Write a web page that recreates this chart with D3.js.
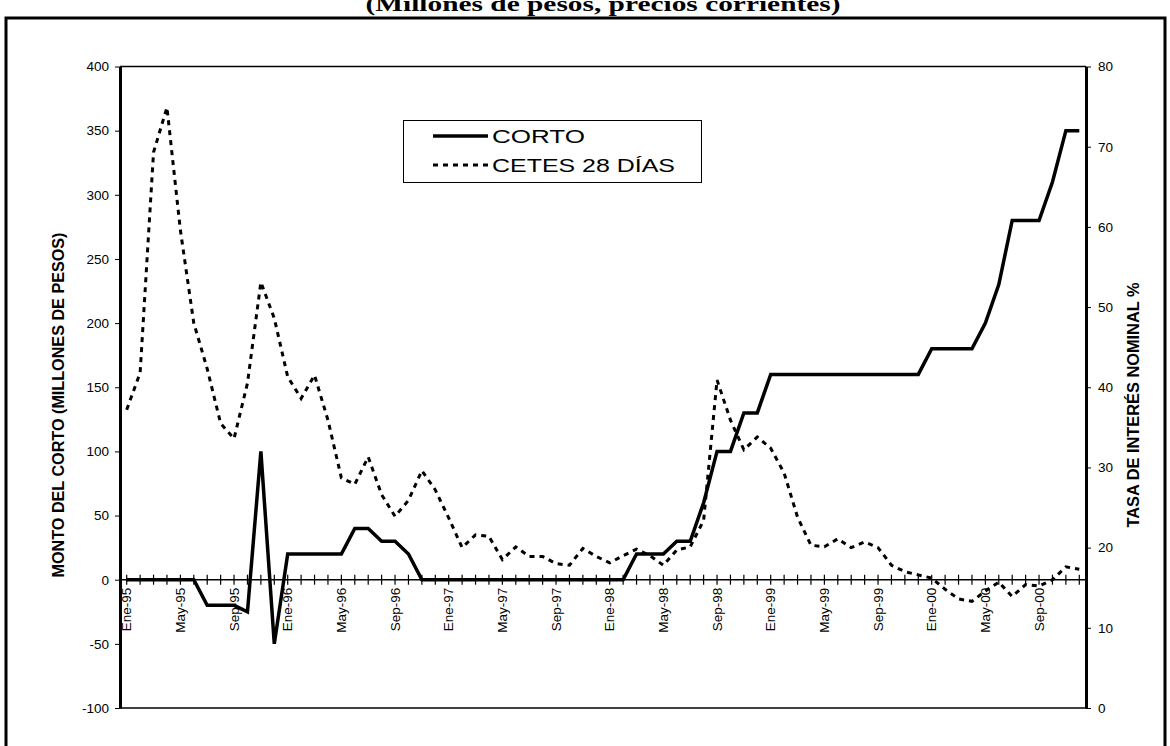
<!DOCTYPE html>
<html>
<head>
<meta charset="utf-8">
<script src="https://cdn.jsdelivr.net/npm/d3@7"></script>
<style>
  html, body { margin: 0; padding: 0; background: #fff; }
  svg { display: block; }
  text { font-family: "Liberation Sans", Arial, sans-serif; fill: #000; }
</style>
</head>
<body>
<svg id="chart" width="1170" height="746"></svg>
<script>
// Month abbreviations and years used to build the monthly categories
const meses = ["Ene","Feb","Mar","Abr","May","Jun","Jul","Ago","Sep","Oct","Nov","Dic"];
const anios = ["95","96","97","98","99","00"];
const categorias = anios.flatMap(a => meses.map(m => m + "-" + a));

// Labels shown under the horizontal axis
const etiquetasX = ["Ene-95","May-95","Sep-95","Ene-96","May-96","Sep-96","Ene-97","May-97","Sep-97",
                    "Ene-98","May-98","Sep-98","Ene-99","May-99","Sep-99","Ene-00","May-00","Sep-00"];

// Left axis ticks (millions of pesos) and right axis ticks (%)
const ticksIzq = [-100, -50, 0, 50, 100, 150, 200, 250, 300, 350, 400];
const ticksDer = [0, 10, 20, 30, 40, 50, 60, 70, 80];

// Monto del corto, millones de pesos (Ene-95 .. Dic-00)
const corto = [
  0, 0, 0, 0, 0, 0, -20, -20, -20, -25, 100, -50,
  20, 20, 20, 20, 20, 40, 40, 30, 30, 20, 0, 0,
  0, 0, 0, 0, 0, 0, 0, 0, 0, 0, 0, 0,
  0, 0, 20, 20, 20, 30, 30, 60, 100, 100, 130, 130,
  160, 160, 160, 160, 160, 160, 160, 160, 160, 160, 160, 160,
  180, 180, 180, 180, 200, 230, 280, 280, 280, 310, 350, 350
];

// CETES 28 días, tasa nominal % (Ene-95 .. Dic-00)
const cetes = [
  37.2, 41.8, 69.3, 74.9, 59.6, 48.0, 42.3, 35.5, 33.6, 40.5, 53.1, 48.6,
  41.3, 38.6, 41.5, 35.9, 28.7, 27.9, 31.3, 26.6, 23.9, 25.9, 29.6, 27.2,
  23.7, 20.0, 21.6, 21.4, 18.5, 20.1, 18.9, 18.9, 18.0, 17.8, 19.9, 18.9,
  18.1, 19.0, 19.8, 19.0, 17.8, 19.7, 20.1, 23.4, 40.9, 35.9, 32.2, 33.8,
  32.4, 29.3, 23.8, 20.3, 20.1, 21.1, 20.0, 20.7, 20.0, 17.8, 17.0, 16.6,
  16.2, 14.8, 13.6, 13.3, 14.6, 15.7, 13.9, 15.4, 15.2, 16.0, 17.6, 17.3
];

const svg = d3.select("#chart");
const plot = { left: 120, right: 1086, top: 66.5, bottom: 708 };

const x = d3.scaleBand().domain(categorias).range([plot.left, plot.right]).padding(0);
const xc = c => x(c) + x.bandwidth() / 2;
const yIzq = d3.scaleLinear().domain([-100, 400]).range([plot.bottom, plot.top]);
const yDer = d3.scaleLinear().domain([0, 80]).range([plot.bottom, plot.top]);

// Plain integer labels with an ASCII hyphen for negatives
const fmt = d => String(d);

// Outer frame and heading
svg.append("path")
  .attr("d", "M6,760 L6,18 L1165,18 L1165,760")
  .attr("fill", "none").attr("stroke", "#000").attr("stroke-width", 3);

svg.append("text")
  .attr("x", 603).attr("y", 11)
  .attr("text-anchor", "middle")
  .attr("textLength", 475).attr("lengthAdjust", "spacingAndGlyphs")
  .style("font-family", "'Liberation Serif', 'Times New Roman', serif")
  .style("font-weight", "bold").style("font-size", "21px")
  .text("(Millones de pesos, precios corrientes)");

// Top and bottom edges of the plot area
svg.append("line").attr("x1", plot.left).attr("x2", plot.right)
  .attr("y1", plot.top).attr("y2", plot.top).attr("stroke", "#000").attr("stroke-width", 1.5);
svg.append("line").attr("x1", plot.left).attr("x2", plot.right)
  .attr("y1", plot.bottom).attr("y2", plot.bottom).attr("stroke", "#000").attr("stroke-width", 1.5);

// Left axis
const gIzq = svg.append("g").attr("transform", `translate(${plot.left},0)`)
  .call(d3.axisLeft(yIzq).tickValues(ticksIzq).tickSizeInner(5).tickSizeOuter(0).tickPadding(6)
        .tickFormat(fmt));
gIzq.select(".domain").attr("stroke-width", 3);
gIzq.selectAll(".tick line").attr("stroke-width", 1);
gIzq.selectAll(".tick text").style("font-size", "13.5px").attr("font-family", null);

// Right axis
const gDer = svg.append("g").attr("transform", `translate(${plot.right},0)`)
  .call(d3.axisRight(yDer).tickValues(ticksDer).tickSizeInner(5).tickSizeOuter(0).tickPadding(7)
        .tickFormat(fmt));
gDer.select(".domain").attr("stroke-width", 3);
gDer.selectAll(".tick line").attr("stroke-width", 1);
gDer.selectAll(".tick text").style("font-size", "13.5px").attr("font-family", null);

// Category axis crossing at zero: tick marks on every month
const y0 = yIzq(0);
const gX = svg.append("g").attr("transform", `translate(0,${y0})`)
  .call(d3.axisBottom(x).tickSizeInner(5).tickSizeOuter(0).tickFormat(""));
gX.select(".domain").attr("d", `M${plot.left},0H${plot.right}`).attr("stroke-width", 1.5);
gX.selectAll(".tick line").attr("y1", -5).attr("y2", 5).attr("stroke-width", 1.2);

// Rotated month labels every four months
const gXL = svg.append("g").attr("transform", `translate(0,${y0})`)
  .call(d3.axisBottom(x).tickValues(etiquetasX).tickSize(0).tickPadding(0));
gXL.select(".domain").remove();
gXL.selectAll(".tick text")
  .attr("font-family", null)
  .style("font-size", "13.5px")
  .attr("text-anchor", "end")
  .attr("transform", "rotate(-90)")
  .attr("x", -8).attr("y", 0).attr("dy", "0.35em");

// Series
const lineaCorto = d3.line().x((d, i) => xc(categorias[i])).y(d => yIzq(d));
const lineaCetes = d3.line().x((d, i) => xc(categorias[i])).y(d => yDer(d));

svg.append("path").datum(cetes)
  .attr("d", lineaCetes)
  .attr("fill", "none").attr("stroke", "#000")
  .attr("stroke-width", 3).attr("stroke-dasharray", "5,5")
  .attr("stroke-linejoin", "miter");

svg.append("path").datum(corto)
  .attr("d", lineaCorto)
  .attr("fill", "none").attr("stroke", "#000")
  .attr("stroke-width", 3.5).attr("stroke-linejoin", "miter");

// Axis titles
svg.append("text")
  .attr("transform", "translate(64,405) rotate(-90)")
  .attr("text-anchor", "middle")
  .attr("textLength", 345).attr("lengthAdjust", "spacingAndGlyphs")
  .style("font-weight", "bold").style("font-size", "16px")
  .text("MONTO DEL CORTO (MILLONES DE PESOS)");

svg.append("text")
  .attr("transform", "translate(1139,405) rotate(-90)")
  .attr("text-anchor", "middle")
  .attr("textLength", 245).attr("lengthAdjust", "spacingAndGlyphs")
  .style("font-weight", "bold").style("font-size", "16px")
  .text("TASA DE INTERÉS NOMINAL %");

// Legend
const leyenda = svg.append("g");
leyenda.append("rect")
  .attr("x", 403.5).attr("y", 120.5).attr("width", 298).attr("height", 62)
  .attr("fill", "#fff").attr("stroke", "#000").attr("stroke-width", 1);
const series = [
  { nombre: "CORTO", largo: 93, dash: null, ancho: 3.5 },
  { nombre: "CETES 28 DÍAS", largo: 183, dash: "5,5", ancho: 3 }
];
series.forEach((s, i) => {
  const yy = 136 + i * 29;
  leyenda.append("line")
    .attr("x1", 433).attr("x2", 488).attr("y1", yy).attr("y2", yy)
    .attr("stroke", "#000").attr("stroke-width", s.ancho)
    .attr("stroke-dasharray", s.dash);
  leyenda.append("text")
    .attr("x", 492).attr("y", yy + 7)
    .attr("textLength", s.largo).attr("lengthAdjust", "spacingAndGlyphs")
    .style("font-size", "19px")
    .text(s.nombre);
});
</script>
</body>
</html>
